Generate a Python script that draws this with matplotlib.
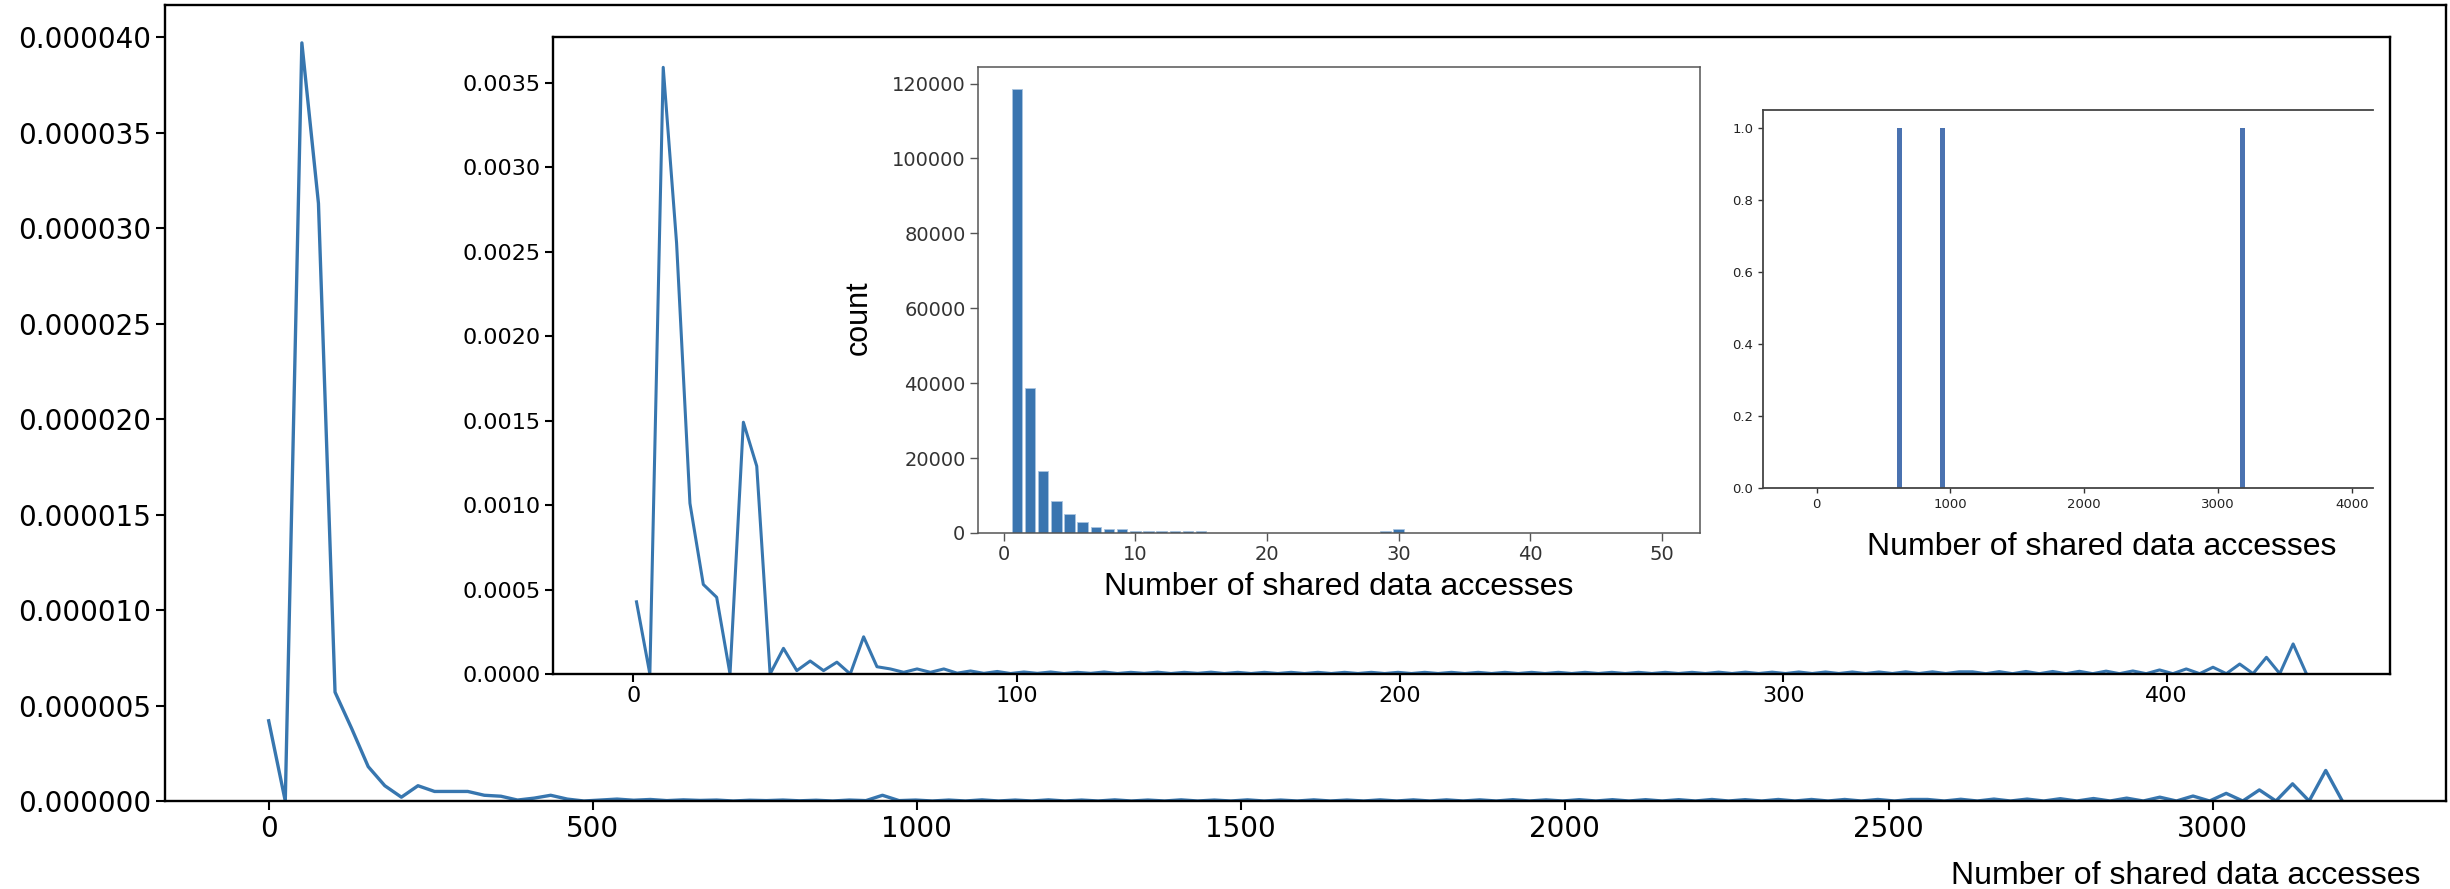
import numpy as np
import matplotlib
matplotlib.use("Agg")
import matplotlib.pyplot as plt
from matplotlib.ticker import FormatStrFormatter

# -----------------------------
# Data
# -----------------------------
# main curve: density over all accesses (126 bin positions, 0..3200)
main_x = np.linspace(0, 3200, 126)
main_density = [
    4.2e-6, 0.0, 3.97e-5, 3.13e-5, 5.7e-6, 3.8e-6, 1.8e-6, 0.8e-6, 0.2e-6, 0.8e-6,
    0.5e-6, 0.5e-6, 0.5e-6, 0.3e-6, 0.25e-6, 0.05e-6, 0.15e-6, 0.3e-6, 0.1e-6, 0.0,
    0.05e-6, 0.1e-6, 0.04e-6, 0.08e-6, 0.02e-6, 0.06e-6, 0.03e-6, 0.05e-6, 0.0, 0.04e-6,
    0.02e-6, 0.05e-6, 0.01e-6, 0.04e-6, 0.0, 0.05e-6, 0.02e-6, 0.3e-6, 0.02e-6, 0.05e-6,
    0.0, 0.05e-6, 0.0, 0.06e-6, 0.0, 0.05e-6, 0.0, 0.06e-6, 0.0, 0.05e-6,
    0.0, 0.06e-6, 0.0, 0.05e-6, 0.0, 0.06e-6, 0.0, 0.05e-6, 0.0, 0.06e-6,
    0.0, 0.05e-6, 0.0, 0.06e-6, 0.0, 0.05e-6, 0.0, 0.06e-6, 0.0, 0.06e-6,
    0.0, 0.06e-6, 0.0, 0.06e-6, 0.0, 0.07e-6, 0.0, 0.06e-6, 0.0, 0.07e-6,
    0.0, 0.07e-6, 0.0, 0.07e-6, 0.0, 0.07e-6, 0.0, 0.08e-6, 0.0, 0.07e-6,
    0.0, 0.08e-6, 0.0, 0.08e-6, 0.0, 0.08e-6, 0.0, 0.08e-6, 0.0, 0.08e-6,
    0.08e-6, 0.0, 0.09e-6, 0.0, 0.1e-6, 0.0, 0.1e-6, 0.0, 0.12e-6, 0.0,
    0.13e-6, 0.0, 0.15e-6, 0.0, 0.2e-6, 0.0, 0.26e-6, 0.0, 0.4e-6, 0.0,
    0.58e-6, 0.0, 0.9e-6, 0.0, 1.6e-6, 0.0,
]

# first inset: density for accesses below ~440
zoom_x = np.linspace(0.8, 436.5, 126)
zoom_density = [
    0.000427, 0.0, 0.00359, 0.00255, 0.00101, 0.00053, 0.000454, 0.0, 0.00149, 0.00123,
    0.0, 0.000152, 0.00002, 0.000077, 0.00002, 0.00007, 0.0, 0.00022, 0.000043, 0.00003,
    0.00001, 0.00003, 0.00001, 0.00003, 0.000005, 0.000018, 0.000004, 0.000015, 0.000003, 0.000012,
    0.000004, 0.000012, 0.000003, 0.00001, 0.000004, 0.000012, 0.000003, 0.00001, 0.000004, 0.000011,
    0.000003, 0.00001, 0.000004, 0.000011, 0.000003, 0.00001, 0.000003, 0.00001, 0.000003, 0.00001,
    0.000003, 0.00001, 0.000003, 0.00001, 0.000003, 0.00001, 0.000003, 0.00001, 0.000003, 0.00001,
    0.000003, 0.00001, 0.000003, 0.00001, 0.000003, 0.00001, 0.000003, 0.00001, 0.000003, 0.00001,
    0.000003, 0.00001, 0.000003, 0.00001, 0.000003, 0.00001, 0.000003, 0.00001, 0.000003, 0.00001,
    0.000003, 0.000011, 0.000003, 0.000011, 0.000003, 0.000011, 0.000003, 0.000012, 0.000003, 0.000012,
    0.000003, 0.000012, 0.000003, 0.000012, 0.000003, 0.000013, 0.000003, 0.000013, 0.000003, 0.000013,
    0.000013, 0.000002, 0.000014, 0.000002, 0.000015, 0.000002, 0.000015, 0.000002, 0.000016, 0.000002,
    0.000017, 0.000002, 0.000018, 0.000002, 0.000024, 0.000002, 0.00003, 0.000002, 0.00004, 0.000002,
    0.000059, 0.000002, 0.0000988, 0.000002, 0.000178, 0.0,
]

# histogram inset: counts per number of accesses
hist_bins = list(range(1, 51))
hist_counts = [
    118500, 38800, 16500, 8450, 5080, 2840, 1600, 1070, 1070, 430,
    430, 430, 430, 430, 430, 60, 40, 30, 20, 20,
    20, 10, 10, 10, 10, 10, 10, 10, 430, 1070,
    10, 10, 5, 5, 5, 5, 5, 5, 5, 5,
    5, 5, 5, 5, 5, 5, 5, 5, 5, 5,
]

# outliers inset: three single large values
outlier_x = [621, 942, 3182]
outlier_h = [1.0, 1.0, 1.0]

LINE = "#3776af"
BAR = "#3a75b0"
LABEL_FONT = "Liberation Sans"

W, H = 2450, 889


def box(left, top, right, bottom):
    # pixel box -> figure fraction
    return [left / W, (H - bottom) / H, (right - left) / W, (bottom - top) / H]


fig = plt.figure(figsize=(24.5, 8.89), dpi=100)

# -----------------------------
# Main axes
# -----------------------------
ax = fig.add_axes(box(165, 5, 2446, 801))
ax.plot(main_x, main_density, color=LINE, lw=2.4)
ax.set_ylim(0, max(main_density) * 1.05)
ax.set_xticks([0, 500, 1000, 1500, 2000, 2500, 3000])
ax.yaxis.set_major_formatter(FormatStrFormatter("%.6f"))
ax.tick_params(labelsize=20, length=6.5, width=1.5)
for s in ax.spines.values():
    s.set_linewidth(1.7)
ax.set_xlabel("Number of shared data accesses", fontsize=23,
              family=LABEL_FONT, loc="right")
ax.xaxis.set_label_coords((2420 - 165) / (2446 - 165), -0.075)

# -----------------------------
# Inset 1: zoom on small counts
# -----------------------------
ax1 = fig.add_axes(box(553, 37, 2390, 674))
ax1.plot(zoom_x, zoom_density, color=LINE, lw=2.2)
ax1.set_ylim(0, max(zoom_density) * 1.05)
ax1.set_xticks([0, 100, 200, 300, 400])
ax1.yaxis.set_major_formatter(FormatStrFormatter("%.4f"))
ax1.tick_params(labelsize=16, length=5.5, width=1.5)
for s in ax1.spines.values():
    s.set_linewidth(1.7)

# -----------------------------
# Inset 2: count histogram
# -----------------------------
ax2 = fig.add_axes(box(978, 67, 1700, 533))
ax2.bar(hist_bins, hist_counts, width=0.8, color=BAR,
        edgecolor="#a9c4e0", linewidth=0.6)
ax2.set_xlim(-1.95, 52.9)
ax2.set_ylim(0, max(hist_counts) * 1.05)
ax2.set_xticks([0, 10, 20, 30, 40, 50])
ax2.set_yticks([0, 20000, 40000, 60000, 80000, 100000, 120000])
ax2.tick_params(labelsize=14, length=5.5, width=1.0,
                colors="#555555", labelcolor="#333333")
for s in ax2.spines.values():
    s.set_linewidth(1.1)
    s.set_color("#555555")
ax2.set_ylabel("count", fontsize=22, family=LABEL_FONT)
ax2.yaxis.set_label_coords(-0.145, 0.462)
ax2.set_xlabel("Number of shared data accesses", fontsize=23, family=LABEL_FONT)
ax2.xaxis.set_label_coords(0.5, -0.084)

# -----------------------------
# Inset 3: the three outliers
# -----------------------------
ax3 = fig.add_axes(box(1763, 110, 2373, 488))
ax3.bar(outlier_x, outlier_h, width=41, color="#4a72b0")
ax3.set_xlim(-400, 4158)
ax3.set_ylim(0, 1.05)
ax3.set_xticks([0, 1000, 2000, 3000, 4000])
ax3.set_yticks([0.0, 0.2, 0.4, 0.6, 0.8, 1.0])
ax3.yaxis.set_major_formatter(FormatStrFormatter("%.1f"))
ax3.tick_params(labelsize=9.5, length=3.5, width=1.0,
                colors="#333333", labelcolor="#222222")
ax3.spines["right"].set_visible(False)
for s in ["top", "left", "bottom"]:
    ax3.spines[s].set_linewidth(1.3)
    ax3.spines[s].set_color("#444444")
ax3.set_xlabel("Number of shared data accesses", fontsize=23, family=LABEL_FONT)
ax3.xaxis.set_label_coords(0.556, -0.116)

fig.savefig("out.png", dpi=100)
